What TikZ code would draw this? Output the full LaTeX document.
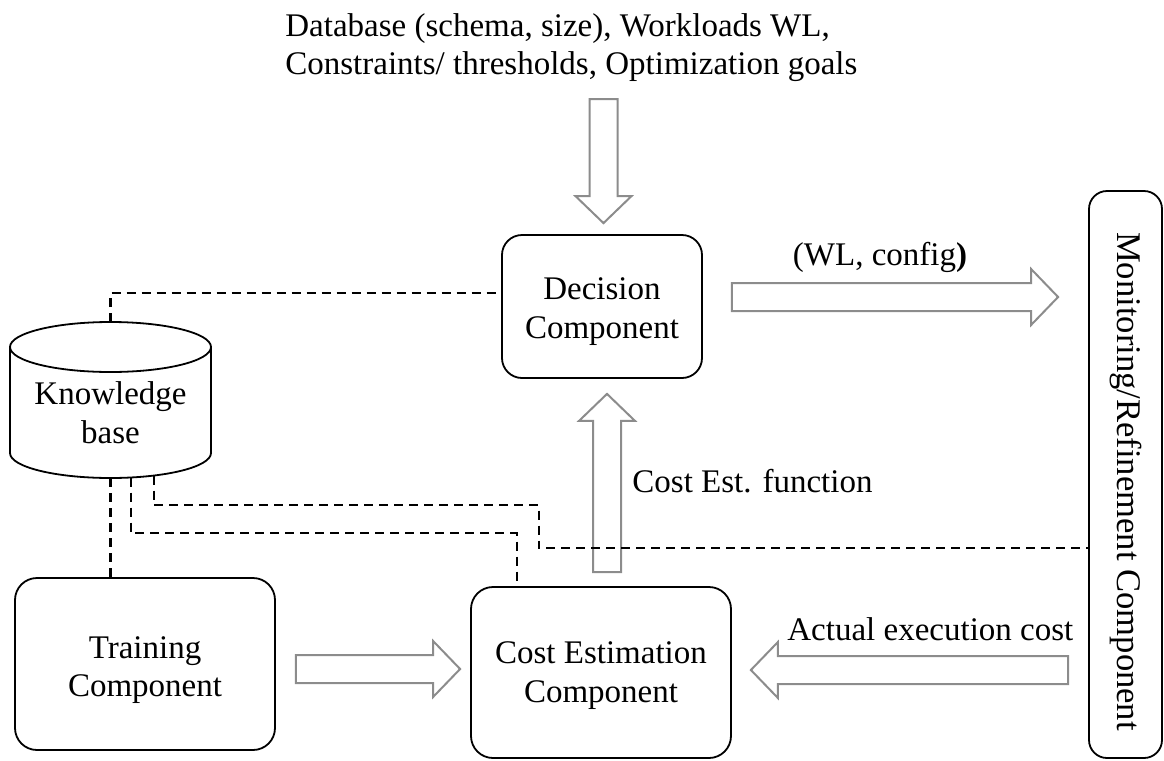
\documentclass[tikz,border=0pt]{standalone}
\usepackage{fontspec}
\setmainfont{Liberation Serif}
\usetikzlibrary{calc}

\tikzset{
  every node/.style={font=\fontsize{16.5}{19.3}\selectfont},
  box/.style={draw, line width=0.9pt, rounded corners=10pt, inner sep=0pt},
  boxtext/.style={label={[align=center, inner sep=0pt, yshift=#1]center:{\boxcontent}}},
  outline/.style={draw, line width=0.9pt},
  blockarr/.style={draw=black!45, line width=1pt, fill=white, line join=miter},
  dashline/.style={line width=1.1pt, dash pattern=on 4.5pt off 3pt},
  lbl/.style={inner sep=0pt}
}

% hollow block arrow from coordinate #1 to coordinate #2
\newcommand\blockarrow[2]{%
  \path let \p1=($(#2)-(#1)$), \n1={atan2(\y1,\x1)}, \n2={veclen(\x1,\y1)} in
    \pgfextra{\xdef\baang{\n1}\xdef\balen{\n2}};
  \begin{scope}[shift={(#1)}, rotate=\baang, x=1pt, y=1pt]
    \draw[blockarr] (0,-7) -- ({\balen-13.5},-7) -- ({\balen-13.5},-14) -- (\balen,0)
      -- ({\balen-13.5},14) -- ({\balen-13.5},7) -- (0,7) -- cycle;
  \end{scope}}

\begin{document}
\begin{tikzpicture}[x=0.5pt, y=-0.5pt]
\useasboundingbox (0,0) rectangle (1164,761);

% inputs
\node[lbl, anchor=north west, align=left] (inputs) at (285,13)
  {Database (schema, size), Workloads WL,\\Constraints/ thresholds, Optimization goals};

% components (text set a little below the box centre)
\node[box, minimum width=100pt, minimum height=71.5pt,
  label={[align=center, inner sep=0pt, yshift=-2.5pt]center:{Decision\\Component}}] (dec) at (602,306.5) {};
\node[box, rounded corners=11pt, minimum width=130pt, minimum height=86pt,
  label={[align=center, inner sep=0pt, yshift=-3pt]center:{Training\\Component}}] (train) at (145,664) {};
\node[box, rounded corners=11pt, minimum width=130pt, minimum height=85.5pt,
  label={[align=center, inner sep=0pt, yshift=-1.5pt]center:{Cost Estimation\\Component}}] (cost) at (601,672.5) {};
\node[box, rounded corners=9pt, minimum width=36.5pt, minimum height=283.5pt,
  label={[inner sep=0pt, yshift=-3.5pt, font=\fontsize{17.3}{20}\selectfont]center:{\rotatebox{-90}{Monitoring/Refinement Component}}}]
  (mon) at (1125.5,474.5) {};

% knowledge base cylinder
\draw[outline] (10,347) -- (10,453) arc[start angle=180, end angle=0, x radius=100.5, y radius=25] -- (211,347);
\draw[outline] (110.5,347) ellipse[x radius=100.5, y radius=25];
\node[lbl, align=center] (kb) at (110.5,413) {Knowledge\\base};
\coordinate (kbtop) at (110.5,322);
\coordinate (kbbot) at (110.5,478);
\coordinate (kbbot2) at (131,477.5);
\coordinate (kbbot3) at (154,475.5);

% block arrows
\coordinate (a1s) at ($(dec.north)+(1.5,-135)$);
\coordinate (a1e) at ($(dec.north)+(1.5,-11)$);
\blockarrow{a1s}{a1e}

\coordinate (a2s) at ($(dec.east)+(29,-9.5)$);
\coordinate (a2e) at ($(dec.east -| mon.west)+(-30,-9.5)$);
\blockarrow{a2s}{a2e}

\coordinate (a3s) at ($(cost.north)+(6,-14)$);
\coordinate (a3e) at ($(dec.south)+(5,15)$);
\blockarrow{a3s}{a3e}

\coordinate (a4s) at ($(train.east)+(20,5)$);
\coordinate (a4e) at ($(cost.west)+(-10,-3.5)$);
\blockarrow{a4s}{a4e}

\coordinate (a5s) at ($(cost.east -| mon.west)+(-20,-2.5)$);
\coordinate (a5e) at ($(cost.east)+(19,-2.5)$);
\blockarrow{a5s}{a5e}

% arrow labels
\node[lbl, anchor=base] (wlc) at (880,265) {(WL, config\textbf{)}};
\node[lbl, anchor=base west] (cef) at (632,492) {Cost Est. function};
\node[lbl, anchor=base west] (aec) at (787,640) {Actual execution cost};

% dashed links to the knowledge base
\draw[dashline] (kbtop) |- ([yshift=6.75pt]dec.west);
\draw[dashline] (kbbot) -- (kbbot |- train.north);
\draw[dashline] (kbbot2) |- ($(cost.north)+(-84,-53)$) -- ($(cost.north)+(-84,0)$);
\draw[dashline] (kbbot3) |- ($(cost.north)+(-62,-81)$) |- ($(cost.north -| mon.west)+(0,-38)$);
\end{tikzpicture}
\end{document}
